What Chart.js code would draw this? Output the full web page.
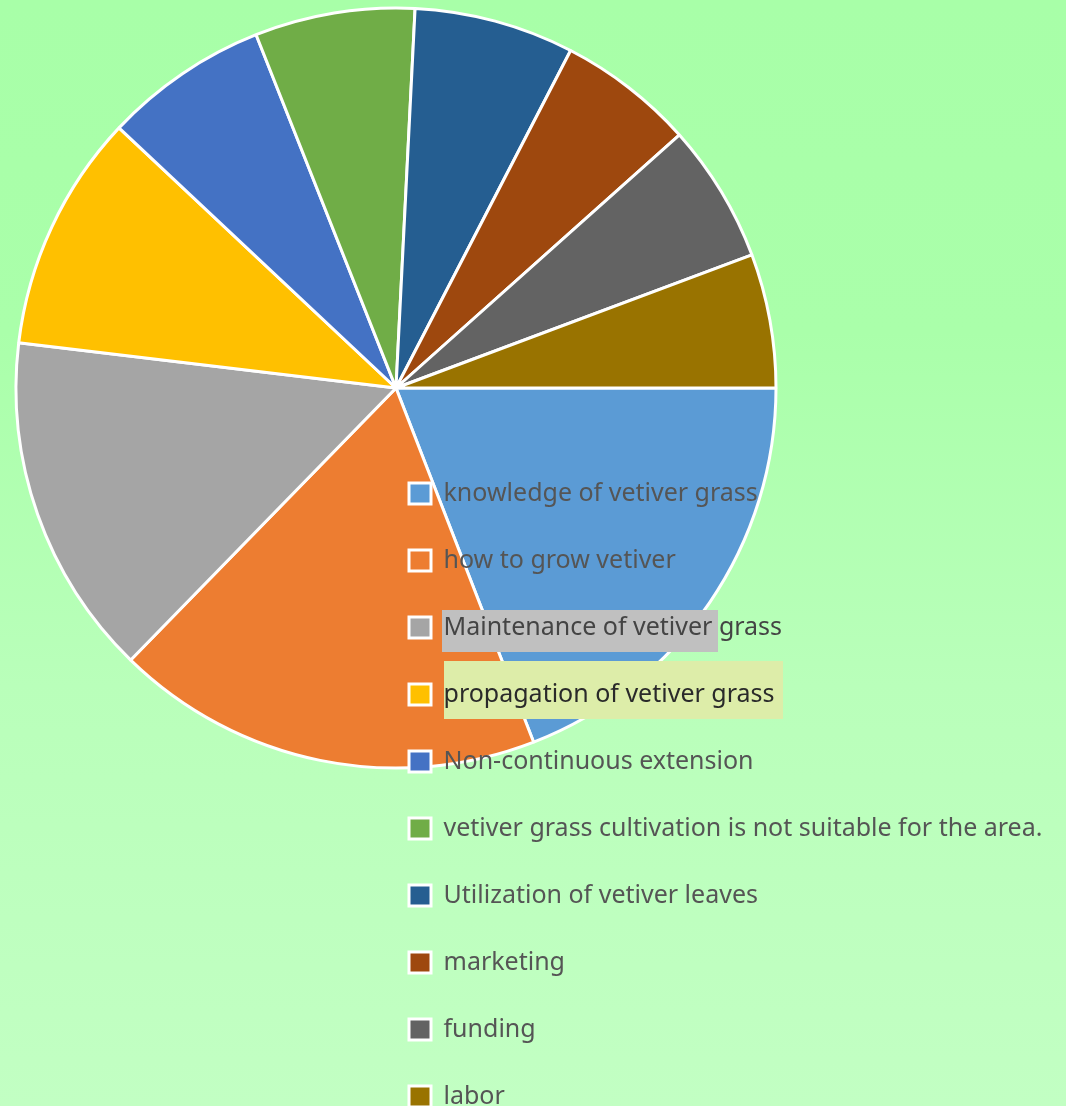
<!DOCTYPE html>
<html>
<head>
<meta charset="utf-8">
<title>Vetiver grass problems</title>
<script src="https://cdn.jsdelivr.net/npm/chart.js@4.4.1/dist/chart.umd.min.js"></script>
<style>
  html, body { margin: 0; padding: 0; }
  body {
    width: 1066px;
    height: 1106px;
    overflow: hidden;
    background: linear-gradient(to bottom, #a8ffa8 0%, #aaffaa 30%, #b9ffba 62%, #c2ffc3 100%);
  }
  #wrap { position: relative; width: 1066px; height: 1106px; }
</style>
</head>
<body>
<div id="wrap"><canvas id="pieChart" width="1066" height="1106"></canvas></div>
<script>
const labels = [
  "knowledge of vetiver grass",
  "how to grow vetiver",
  "Maintenance of vetiver grass",
  "propagation of vetiver grass",
  "Non-continuous extension",
  "vetiver grass cultivation is not suitable for the area.",
  "Utilization of vetiver leaves",
  "marketing",
  "funding",
  "labor"
];
const shares = [19.1, 18.2, 14.6, 10.1, 7.0, 6.8, 6.8, 5.8, 5.9, 5.7];
const colors = ["#5b9bd5", "#ed7d31", "#a5a5a5", "#ffc000", "#4472c4",
                "#70ad47", "#255e91", "#9e480e", "#636363", "#997300"];
const labelColors = ["#555", "#555", "#444", "#2a2a2a", "#555",
                     "#555", "#555", "#555", "#555", "#555"];

// the two legend rows that sit on a coloured strip in the original
const highlights = [
  { index: 2, color: "#c0c0c0", dx: -1.5, dy: -17.5, w: 276, h: 42 },
  { index: 3, color: "#ddeda9", dx: 0.5, dy: -33.5, w: 339, h: 58 }
];

const baseLabels = Chart.overrides.pie.plugins.legend.labels.generateLabels;

// legend goes over the pie, lower right
const legendPlacement = {
  id: "legendPlacement",
  afterLayout(chart) {
    const lg = chart.legend;
    lg.left = 367;
    lg.top = 439;
    lg.right = chart.width;
    lg.bottom = chart.height + 120;
    lg.width = lg.right - lg.left;
    lg.height = lg.bottom - lg.top;
    chart._layers.forEach((layer) => { layer.z = 1; });
  },
  afterDatasetsDraw(chart) {
    const lg = chart.legend;
    const lab = lg.options.labels;
    const size = lab.font.size;
    const itemH = Math.max(size, lab.boxHeight);
    const rowH = itemH + lab.padding;
    const textX = lg.left + lab.padding + lab.boxWidth + size / 2;
    const ctx = chart.ctx;
    ctx.save();
    highlights.forEach((h) => {
      const mid = lg.top + lab.padding + h.index * rowH + itemH / 2;
      ctx.fillStyle = h.color;
      ctx.fillRect(textX + h.dx, mid + h.dy, h.w, h.h);
    });
    ctx.restore();
  }
};

const ctx = document.getElementById("pieChart");
const myChart = new Chart(ctx, {
  type: "pie",
  data: {
    labels: labels,
    datasets: [
      {
        data: shares,
        backgroundColor: colors,
        borderColor: "#ffffff",
        borderWidth: 3,
        clip: false
      }
    ]
  },
  options: {
    responsive: false,
    animation: false,
    events: [],
    rotation: 90,
    radius: 380,
    layout: {
      padding: { left: 0, top: 0, right: 274, bottom: 330 }
    },
    plugins: {
      tooltip: { enabled: false },
      legend: {
        display: true,
        position: "chartArea",
        align: "start",
        labels: {
          boxWidth: 22,
          boxHeight: 21,
          padding: 42,
          color: "#555",
          font: { family: "'Noto Sans', sans-serif", size: 25 },
          generateLabels(chart) {
            const items = baseLabels(chart);
            items.forEach((it, i) => { it.fontColor = labelColors[i]; });
            return items;
          }
        }
      }
    }
  },
  plugins: [legendPlacement]
});
</script>
</body>
</html>
